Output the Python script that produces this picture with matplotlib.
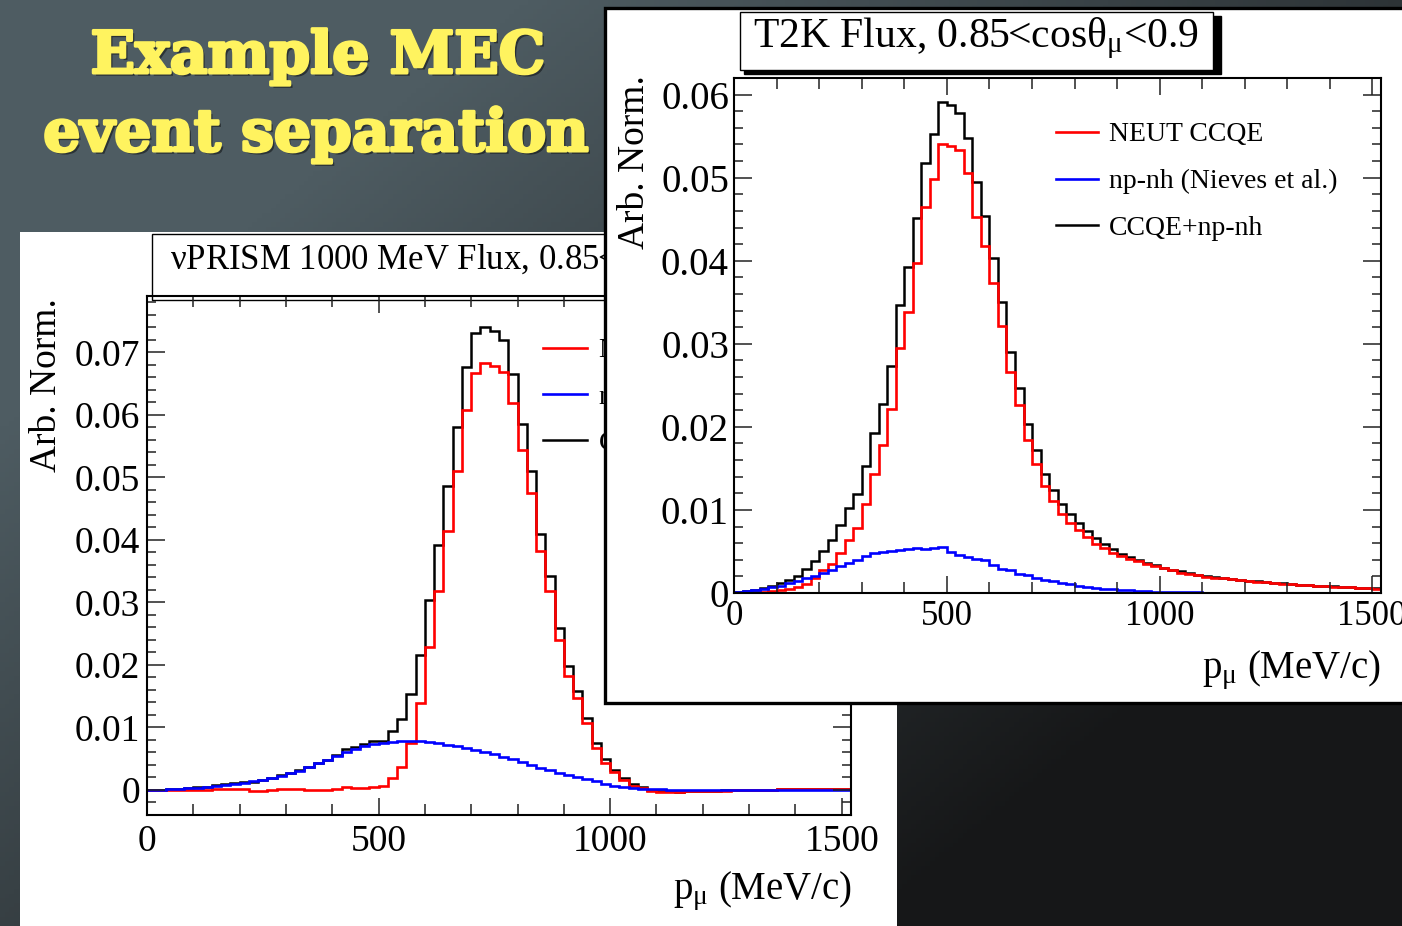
import numpy as np
import matplotlib
matplotlib.use('Agg')
import matplotlib.pyplot as plt
from matplotlib.patches import Rectangle
from matplotlib.lines import Line2D
from matplotlib.ticker import MultipleLocator, FixedLocator, FuncFormatter
import matplotlib.patheffects as pe

plt.rcParams['font.family'] = ['Liberation Serif', 'DejaVu Serif']
plt.rcParams['mathtext.fontset'] = 'custom'
plt.rcParams['mathtext.rm'] = 'Liberation Serif'
plt.rcParams['mathtext.it'] = 'Liberation Serif'
plt.rcParams['mathtext.bf'] = 'Liberation Serif:bold'

# ---------------- data ----------------
bin_edges = np.arange(0, 1521, 20)   # p_mu (MeV/c)

legend_labels = ['NEUT CCQE', 'np-nh (Nieves et al.)', 'CCQE+np-nh']

# nuPRISM 1000 MeV flux panel
nuprism_ccqe = [0.0, 0.0, 0.0, 0.00002, 0.00002, 0.00005, 0.00005, 0.00008, 0.0001, 0.00016,
    0.00016, -0.0001, -0.0001, 0.0, 0.0001, 0.0001, 0.0001, 0.0, 0.0, 0.0,
    0.00016, 0.00043, 0.00032, 0.00032, 0.00043, 0.0006, 0.00197, 0.00367, 0.00745, 0.01395,
    0.0229, 0.03179, 0.04137, 0.05107, 0.0607, 0.06667, 0.06826, 0.06784, 0.06677, 0.06187,
    0.05442, 0.0475, 0.03829, 0.0319, 0.02396, 0.01821, 0.01464, 0.01076, 0.00676, 0.00437,
    0.00288, 0.00154, 0.00064, 0.00027, -0.00016, -0.0003, -0.0003, -0.0003, -0.0002, -0.0002,
    -0.00015, -0.00015, -0.0001, -0.00005, 0.0, 0.0, 0.00005, 0.00005, 0.0001, 0.0001,
    0.0001, 0.0001, 0.0001, 0.0001, 0.0001, 0.0001]
nuprism_npnh = [0.0, 0.00005, 0.0001, 0.0002, 0.0003, 0.00037, 0.00048, 0.00064, 0.0008, 0.00096,
    0.00117, 0.00138, 0.00165, 0.00192, 0.00224, 0.00266, 0.00309, 0.00362, 0.00426, 0.00485,
    0.00548, 0.00612, 0.0066, 0.00703, 0.00735, 0.00756, 0.00767, 0.00777, 0.00783, 0.00777,
    0.00767, 0.00751, 0.00727, 0.00703, 0.00676, 0.00644, 0.00607, 0.0057, 0.00527, 0.0049,
    0.00442, 0.004, 0.00357, 0.00314, 0.00277, 0.0024, 0.00202, 0.0017, 0.00138, 0.0009,
    0.0007, 0.0005, 0.00035, 0.0002, 0.00012, 0.00008, 0.00006, 0.00004, 0.00003, 0.00003,
    0.00002, 0.00002, 0.00002, 0.00001, 0.00001, 0.00001, 0.00001, 0.00001, 0.0, 0.0,
    0.0, 0.0, 0.0, 0.0, 0.0, 0.0]
nuprism_total = [0.0, 0.00005, 0.0001, 0.00022, 0.00032, 0.00042, 0.00053, 0.00072, 0.0009, 0.00112,
    0.00133, 0.00128, 0.00155, 0.00192, 0.00234, 0.00276, 0.00319, 0.00362, 0.00426, 0.00485,
    0.00564, 0.00655, 0.00692, 0.00735, 0.00778, 0.00783, 0.00942, 0.01129, 0.01528, 0.02151,
    0.03035, 0.03924, 0.04867, 0.05804, 0.06762, 0.07316, 0.07412, 0.07343, 0.07199, 0.06651,
    0.05852, 0.05096, 0.041, 0.03429, 0.02593, 0.01981, 0.01581, 0.01155, 0.00756, 0.0049,
    0.0032, 0.00197, 0.0009, 0.0004, 0.0, -0.00022, -0.00024, -0.00026, -0.00017, -0.00017,
    -0.00013, -0.00013, -0.00008, -0.00004, 0.0, 0.0, 0.00005, 0.00005, 0.0001, 0.0001,
    0.0001, 0.0001, 0.0001, 0.0001, 0.0001, 0.0001]

# T2K flux panel
t2k_ccqe = [0.0, 0.00002, 0.00004, 0.00012, 0.0002, 0.00032, 0.00044, 0.00072, 0.00112, 0.00185,
    0.00273, 0.00345, 0.00482, 0.00635, 0.00787, 0.01076, 0.0143, 0.01787, 0.02213, 0.02944,
    0.03386, 0.03968, 0.04651, 0.0498, 0.05402, 0.05386, 0.05329, 0.0506, 0.0453, 0.04177,
    0.03727, 0.03217, 0.02663, 0.02261, 0.01847, 0.01558, 0.01289, 0.01104, 0.00956, 0.00843,
    0.00755, 0.00675, 0.00594, 0.00546, 0.00486, 0.00442, 0.00406, 0.00382, 0.00353, 0.00321,
    0.00301, 0.00273, 0.00241, 0.00226, 0.00212, 0.00198, 0.00186, 0.00175, 0.00164, 0.00154,
    0.00145, 0.00137, 0.00128, 0.0012, 0.00113, 0.00106, 0.001, 0.00094, 0.00088, 0.00082,
    0.00077, 0.00072, 0.00067, 0.00062, 0.00058, 0.00054]
t2k_npnh = [0.00008, 0.0002, 0.00035, 0.0005, 0.00068, 0.00088, 0.0012, 0.00148, 0.00175, 0.00205,
    0.00235, 0.0028, 0.0032, 0.0036, 0.004, 0.00445, 0.00478, 0.00494, 0.00502, 0.00514,
    0.00534, 0.00546, 0.0053, 0.00546, 0.00554, 0.00494, 0.00462, 0.00434, 0.00414, 0.00394,
    0.00333, 0.00293, 0.00273, 0.00233, 0.00213, 0.00185, 0.00161, 0.00141, 0.0012, 0.00104,
    0.00084, 0.00072, 0.0006, 0.00052, 0.00044, 0.00036, 0.00032, 0.00024, 0.0002, 0.00016,
    0.00012, 0.0001, 0.0001, 0.00008, 0.00007, 0.00006, 0.00005, 0.00005, 0.00004, 0.00004,
    0.00003, 0.00003, 0.00003, 0.00003, 0.00002, 0.00002, 0.00002, 0.00002, 0.00002, 0.00002,
    0.00001, 0.00001, 0.00001, 0.00001, 0.00001, 0.00001]
t2k_total = [0.0001, 0.0002, 0.0004, 0.0006, 0.0009, 0.0012, 0.00153, 0.00205, 0.00285, 0.00382,
    0.00502, 0.00635, 0.00823, 0.01024, 0.01197, 0.0153, 0.01928, 0.02281, 0.02731, 0.03466,
    0.03928, 0.0451, 0.05181, 0.0553, 0.05908, 0.05876, 0.05783, 0.05474, 0.04952, 0.04538,
    0.04028, 0.03498, 0.02896, 0.0247, 0.0204, 0.01727, 0.0143, 0.01237, 0.01076, 0.00948,
    0.00843, 0.00747, 0.00663, 0.00594, 0.00534, 0.00474, 0.00434, 0.00402, 0.00361, 0.00333,
    0.00305, 0.00281, 0.00261, 0.00236, 0.0022, 0.00205, 0.00192, 0.0018, 0.00168, 0.00158,
    0.00148, 0.0014, 0.00131, 0.00123, 0.00115, 0.00108, 0.00102, 0.00096, 0.0009, 0.00084,
    0.00079, 0.00074, 0.00069, 0.00064, 0.0006, 0.00056]

x_ticks = [0, 500, 1000, 1500]
y_ticks_left = [0, 0.01, 0.02, 0.03, 0.04, 0.05, 0.06, 0.07]
y_ticks_right = [0, 0.01, 0.02, 0.03, 0.04, 0.05, 0.06]

# ---------------- layout ----------------
W, H = 1402, 926
fig = plt.figure(figsize=(W / 100, H / 100), dpi=100)


def rect(x0, y0, x1, y1):
    return [x0 / W, 1 - y1 / H, (x1 - x0) / W, (y1 - y0) / H]


def fx(x):
    return x / W


def fy(y):
    return 1 - y / H


# background slate gradient
bg = fig.add_axes([0, 0, 1, 1], zorder=-10)
gy, gx = np.mgrid[0:1:200j, 0:1:300j]
t = np.clip((gx * 0.8 + gy * 0.65 - 0.3) / 0.85, 0, 1)[..., None]
c1 = np.array([78, 92, 98]) / 255.0
c2 = np.array([22, 23, 24]) / 255.0
bg.imshow(c1 * (1 - t) + c2 * t, extent=(0, 1, 0, 1), aspect='auto', origin='upper')
bg.set_xlim(0, 1)
bg.set_ylim(0, 1)
bg.axis('off')

yellow = '#fff35f'
title_fx = [pe.withSimplePatchShadow(offset=(2, -2), shadow_rgbFace='black', alpha=0.45),
            pe.withStroke(linewidth=2.2, foreground=yellow)]
bg.text(318 / W, fy(57), 'Example MEC', color=yellow, fontsize=42, fontweight='bold',
        family='DejaVu Serif', ha='center', va='center', transform=bg.transAxes, path_effects=title_fx)
bg.text(316 / W, fy(135), 'event separation', color=yellow, fontsize=42, fontweight='bold',
        family='DejaVu Serif', ha='center', va='center', transform=bg.transAxes, path_effects=title_fx)

# panels
fig.add_artist(Rectangle((fx(20), fy(940)), fx(897) - fx(20), fy(232) - fy(940),
                         transform=fig.transFigure, facecolor='white', edgecolor='none', zorder=0.5))
fig.add_artist(Rectangle((fx(605), fy(703)), fx(1420) - fx(605), fy(8) - fy(703),
                         transform=fig.transFigure, facecolor='white', edgecolor='black',
                         linewidth=2.4, zorder=2))


def fmt_y(v, p):
    return '0' if abs(v) < 1e-9 else f'{v:.2f}'


def style_axes(ax, ylo, yhi, yticks, xsize, ysize, xpad, ypad):
    ax.set_xlim(0, 1520)
    ax.set_ylim(ylo, yhi)
    ax.xaxis.set_major_locator(FixedLocator(x_ticks))
    ax.xaxis.set_minor_locator(MultipleLocator(100))
    ax.yaxis.set_major_locator(FixedLocator(yticks))
    ax.yaxis.set_minor_locator(MultipleLocator(0.002))
    ax.yaxis.set_major_formatter(FuncFormatter(fmt_y))
    ax.xaxis.set_major_formatter(FuncFormatter(lambda v, p: f'{int(v)}'))
    ax.tick_params(axis='both', which='both', direction='in', top=True, right=True, width=1.1, color='#222222')
    ax.tick_params(axis='y', which='major', length=13, labelsize=ysize, pad=ypad)
    ax.tick_params(axis='y', which='minor', length=6.5)
    ax.tick_params(axis='x', which='major', length=12, labelsize=xsize, pad=xpad)
    ax.tick_params(axis='x', which='minor', length=8)
    for s in ax.spines.values():
        s.set_linewidth(1.5)
    ax.set_facecolor('white')


def draw_hists(ax, total, ccqe, npnh):
    ax.stairs(total, bin_edges, color='black', linewidth=1.8, baseline=None)
    ax.stairs(ccqe, bin_edges, color='#ff0000', linewidth=1.9, baseline=None)
    ax.stairs(npnh, bin_edges, color='#0000ff', linewidth=1.9, baseline=None)


handles = [Line2D([], [], color='#ff0000', lw=1.9),
           Line2D([], [], color='#0000ff', lw=1.9),
           Line2D([], [], color='black', lw=1.8)]

# ---------- left (nuPRISM) ----------
axL = fig.add_axes(rect(147, 296, 851, 815), zorder=1)
style_axes(axL, -0.004, 0.079, y_ticks_left, 27, 27, 7, 5)
draw_hists(axL, nuprism_total, nuprism_ccqe, nuprism_npnh)
axL.legend(handles, legend_labels, loc='upper left', bbox_to_anchor=(fx(543), fy(338)),
           bbox_transform=fig.transFigure, frameon=False, fontsize=20, handlelength=1.6,
           handletextpad=0.4, labelspacing=0.75, borderpad=0, borderaxespad=0)
axL.add_artist(Rectangle((fx(152), fy(300)), fx(870) - fx(152), fy(234) - fy(300),
                         transform=fig.transFigure, facecolor='white', edgecolor='black',
                         linewidth=1.0, clip_on=False))
axL.text(fx(170), fy(262), r'νPRISM 1000 MeV Flux, 0.85<cosθ$_{\mathrm{μ}}$<0.9', transform=fig.transFigure,
         fontsize=25, ha='left', va='center')
axL.text(fx(47), fy(298), 'Arb. Norm.', transform=fig.transFigure, rotation=90,
         fontsize=27, ha='center', va='top')
axL.text(fx(852), fy(899), r'p$_{\mathrm{μ}}$ (MeV/c)', transform=fig.transFigure,
         fontsize=28, ha='right', va='baseline')

# ---------- right (T2K) ----------
axR = fig.add_axes(rect(734.5, 78, 1380.5, 593), zorder=3)
style_axes(axR, 0, 0.062, y_ticks_right, 25, 28, 5, 4)
draw_hists(axR, t2k_total, t2k_ccqe, t2k_npnh)
axR.legend(handles, legend_labels, loc='upper left', bbox_to_anchor=(fx(1056), fy(122)),
           bbox_transform=fig.transFigure, frameon=False, fontsize=20, handlelength=1.5,
           handletextpad=0.4, labelspacing=0.77, borderpad=0, borderaxespad=0)
axR.add_artist(Rectangle((fx(744), fy(74)), fx(1217) - fx(740), fy(12) - fy(70),
                         transform=fig.transFigure, facecolor='black', edgecolor='black',
                         linewidth=1.0, clip_on=False))
axR.add_artist(Rectangle((fx(740), fy(70)), fx(1213) - fx(740), fy(12) - fy(70),
                         transform=fig.transFigure, facecolor='white', edgecolor='black',
                         linewidth=1.0, clip_on=False))
axR.text(fx(976), fy(38), r'T2K Flux, 0.85<cosθ$_{\mathrm{μ}}$<0.9', transform=fig.transFigure,
         fontsize=30, ha='center', va='center')
axR.text(fx(635), fy(75), 'Arb. Norm.', transform=fig.transFigure, rotation=90,
         fontsize=27, ha='center', va='top')
axR.text(fx(1381), fy(678), r'p$_{\mathrm{μ}}$ (MeV/c)', transform=fig.transFigure,
         fontsize=28, ha='right', va='baseline')

fig.savefig('out.png', dpi=100)
